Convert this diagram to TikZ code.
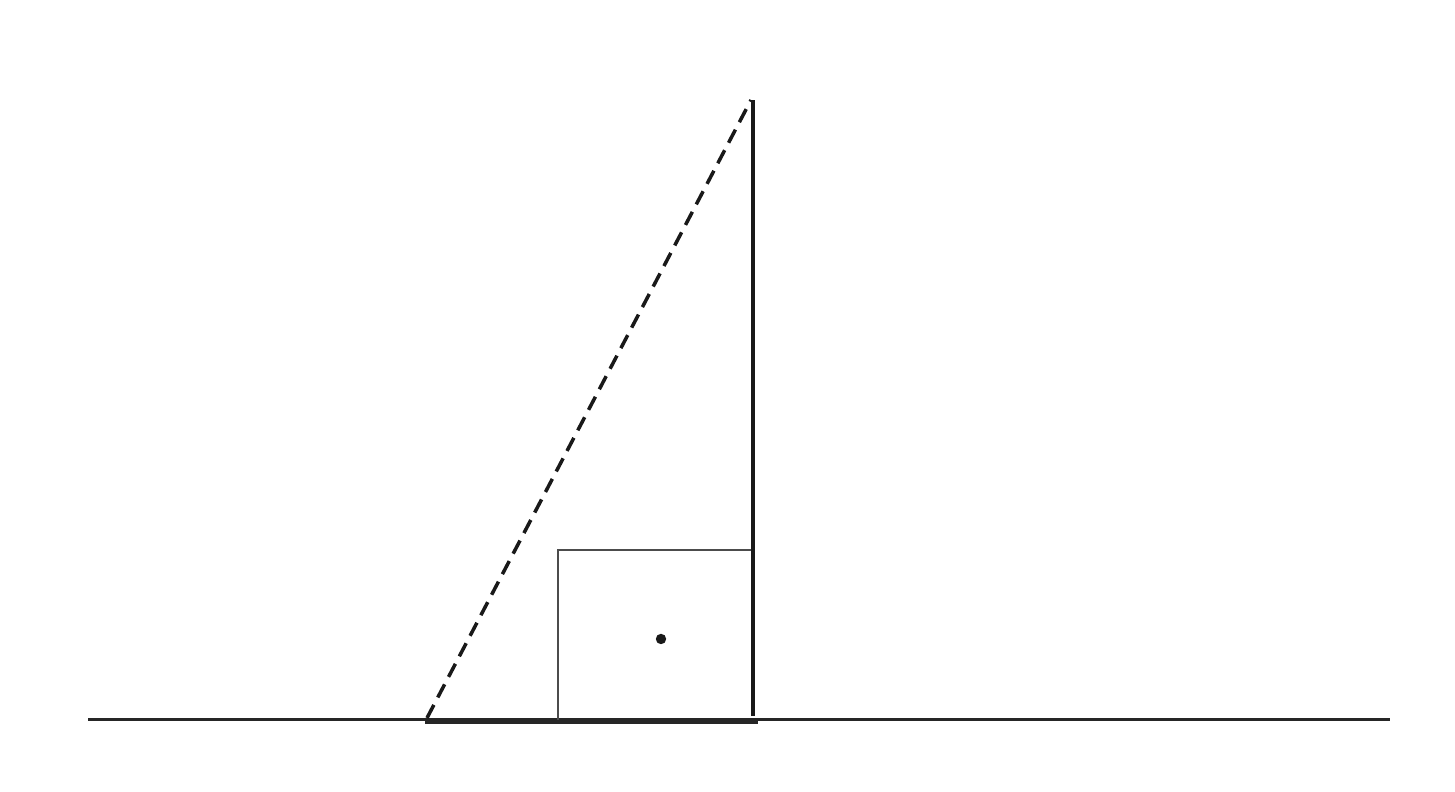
\documentclass[tikz,border=0pt]{standalone}
\usepackage{amsmath}
\usepackage{tikz}

\begin{document}
\begin{tikzpicture}[ground/.style={line width=0.85pt,black!85},
	pole/.style={line width=1.2pt,black!90},
	slant/.style={line width=1pt,black!90,dash pattern=on 4.2pt off 2.4pt},
	sq/.style={line width=0.6pt,black!70}]
\useasboundingbox (0,0) rectangle (14.55,7.92);
\coordinate (g_l) at (0.88,0.72);
\coordinate (g_r) at (13.90,0.72);
\coordinate (b_l) at (4.25,0.70);
\coordinate (b_r) at (7.58,0.70);
\coordinate (top) at (7.53,6.92);
\coordinate (foot) at (7.53,0.76);
\coordinate (s_l) at (4.27,0.74);
\coordinate (s_t) at (7.51,6.92);
\coordinate (q_1) at (5.58,0.72);
\coordinate (q_2) at (7.53,2.42);
\coordinate (c) at (6.61,1.53);

\draw[ground] (g_l) -- (g_r);
\draw[line width=1.4pt,black!85] (b_l) -- (b_r);
\draw[sq] (q_1) |- (q_2);
\draw[pole] (foot) -- (top);
\draw[slant] (s_l) -- (s_t);
\fill[black!90] (c) circle (0.052);
\end{tikzpicture}
\end{document}
